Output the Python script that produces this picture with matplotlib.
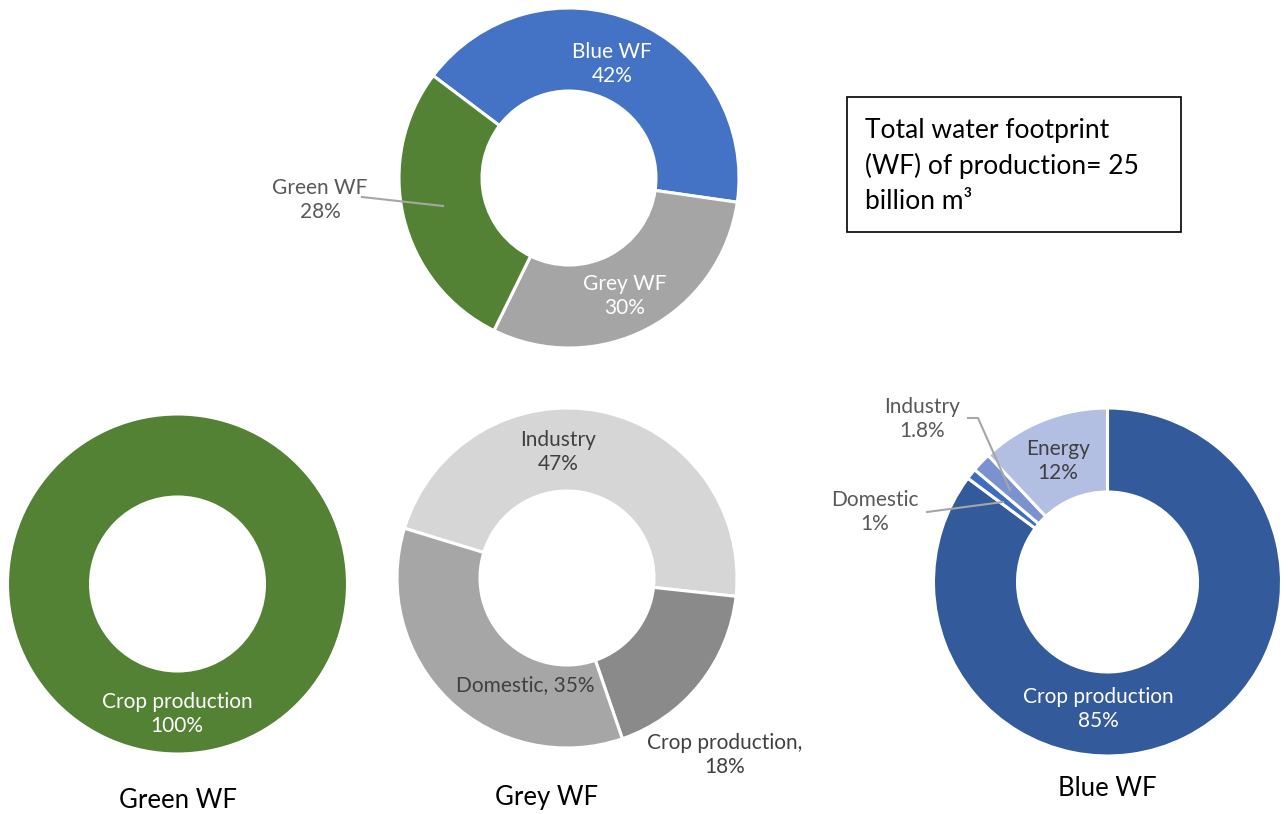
import matplotlib.pyplot as plt

plt.rcParams["font.family"] = ["Lato", "DejaVu Sans"]

# top donut: total WF by colour
total_labels = ["Blue WF", "Grey WF", "Green WF"]
total_values = [42, 30, 28]
total_colors = ["#4472C4", "#A5A5A5", "#548235"]

# green WF by sector
green_labels = ["Crop production"]
green_values = [100]

# grey WF by sector
grey_labels = ["Industry", "Crop production", "Domestic"]
grey_values = [47, 18, 35]
grey_colors = ["#D6D6D6", "#8A8A8A", "#A6A6A6"]

# blue WF by sector
blue_labels = ["Crop production", "Domestic", "Industry", "Energy"]
blue_values = [85, 1, 1.8, 12]
blue_colors = ["#335A9A", "#3E6CC0", "#7A93D0", "#B3BFE2"]

W, H = 1288, 814
fig = plt.figure(figsize=(W / 100, H / 100), dpi=100)
ax = fig.add_axes([0, 0, 1, 1])


def P(x, y):
    # image pixel coords -> data coords (y up)
    return (x, H - y)


def donut(values, colors, cx, cy, r, rin, start):
    ax.pie(values, colors=colors, center=P(cx, cy), radius=r, startangle=start,
           counterclock=False,
           wedgeprops=dict(width=r - rin, edgecolor="white", linewidth=2.2))


dark = "#404040"
outtxt = "#595959"
fs_in = 15
fs_title = 18.5
ls = 1.3

# top
donut(total_values, total_colors, 569, 178, 170, 87, 143)
ax.text(*P(612, 64), "Blue WF\n42%", color="white", fontsize=fs_in, ha="center",
        va="center", linespacing=ls)
ax.text(*P(625, 296), "Grey WF\n30%", color="white", fontsize=fs_in, ha="center",
        va="center", linespacing=ls)
ax.text(*P(320, 200), "Green WF\n28%", color=outtxt, fontsize=fs_in, ha="center",
        va="center", linespacing=ls)
ax.plot(*zip(P(362, 197), P(443, 206)), color="#A6A6A6", lw=1.5)

# text box
ax.add_patch(plt.Rectangle(P(847, 232), 334, 135, fill=False, edgecolor="black",
                           lw=1.2))
ax.text(*P(865, 166), "Total water footprint\n(WF) of production= 25\nbillion m³",
        fontsize=19, ha="left", va="center", linespacing=1.48, color="black")

# green
donut(green_values, ["#548235"], 177.5, 584, 170, 87, 90)
ax.text(*P(177, 714), "Crop production\n100%", color="white", fontsize=fs_in,
        ha="center", va="center", linespacing=ls)
ax.text(*P(178, 800), "Green WF", fontsize=fs_title, ha="center", va="center")

# grey
donut(grey_values, grey_colors, 567, 578, 170, 87, 163)
ax.text(*P(558, 452), "Industry\n47%", color=dark, fontsize=fs_in, ha="center",
        va="center", linespacing=ls)
ax.text(*P(525, 685), "Domestic, 35%", color=dark, fontsize=fs_in, ha="center",
        va="center")
ax.text(*P(725, 755), "Crop production,\n18%", color=dark, fontsize=fs_in,
        ha="center", va="center", linespacing=ls)
ax.text(*P(547, 797), "Grey WF", fontsize=fs_title, ha="center", va="center")

# blue
donut(blue_values, blue_colors, 1107.5, 582, 174, 90, 90)
ax.text(*P(1098, 709), "Crop production\n85%", color="white", fontsize=fs_in,
        ha="center", va="center", linespacing=ls)
ax.text(*P(1058, 461), "Energy\n12%", color=dark, fontsize=fs_in, ha="center",
        va="center", linespacing=ls)
ax.text(*P(922, 419), "Industry\n1.8%", color=outtxt, fontsize=fs_in, ha="center",
        va="center", linespacing=ls)
ax.plot(*zip(P(968, 418), P(978, 418), P(1010, 490)), color="#A6A6A6", lw=1.5)
ax.text(*P(875, 512), "Domestic\n1%", color=outtxt, fontsize=fs_in, ha="center",
        va="center", linespacing=ls)
ax.plot(*zip(P(927, 512), P(1003, 502)), color="#A6A6A6", lw=1.5)
ax.text(*P(1107, 788), "Blue WF", fontsize=fs_title, ha="center", va="center")

ax.set_xlim(0, W)
ax.set_ylim(0, H)
ax.set_aspect("equal")
ax.axis("off")

fig.savefig("out.png", dpi=100, facecolor="white")
